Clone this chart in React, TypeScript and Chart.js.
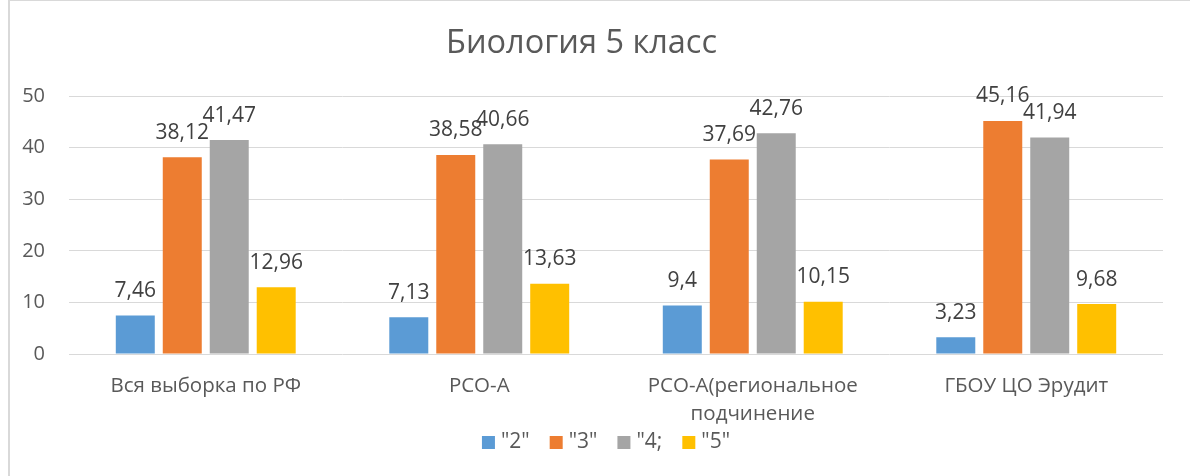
import React, { useEffect, useRef } from "react";
import { Chart, registerables } from "chart.js";

Chart.register(...registerables);

const TITLE = "Биология 5 класс";
const categories: string[][] = [
  ["Вся выборка по РФ"],
  ["РСО-А"],
  ["РСО-А(региональное", "подчинение"],
  ["ГБОУ ЦО Эрудит"],
];
const seriesNames = ['"2"', '"3"', '"4;', '"5"'];
const grade2 = [7.46, 7.13, 9.4, 3.23];
const grade3 = [38.12, 38.58, 37.69, 45.16];
const grade4 = [41.47, 40.66, 42.76, 41.94];
const grade5 = [12.96, 13.63, 10.15, 9.68];
const seriesColors = ["#5B9BD5", "#ED7D31", "#A5A5A5", "#FFC000"];
const yMin = 0;
const yMax = 50;
const yStep = 10;

const FONT = "'Open Sans', sans-serif";

const valueLabels = {
  id: "valueLabels",
  afterDatasetsDraw(chart: any) {
    const ctx = chart.ctx;
    ctx.save();
    ctx.font = `21px ${FONT}`;
    ctx.fillStyle = "#404040";
    ctx.textAlign = "center";
    ctx.textBaseline = "alphabetic";
    chart.data.datasets.forEach((ds: any, di: number) => {
      const meta = chart.getDatasetMeta(di);
      meta.data.forEach((bar: any, i: number) => {
        const v = ds.data[i];
        const txt = String(v).replace(".", ",");
        ctx.fillText(txt, bar.x, bar.y - 18.5);
      });
    });
    ctx.restore();
  },
};

// Legend drawn below the category labels, Excel-style (small square, tight gap).
const bottomLegend = {
  id: "bottomLegend",
  afterDraw(chart: any) {
    const ctx = chart.ctx;
    const box = 13;
    const gapText = 6;
    const gapItem = 20;
    ctx.save();
    ctx.font = `21px ${FONT}`;
    const items = chart.data.datasets.map((ds: any) => ({
      text: ds.label,
      color: ds.backgroundColor,
      w: ctx.measureText(ds.label).width,
    }));
    const total =
      items.reduce((s: number, it: any) => s + box + gapText + it.w, 0) + gapItem * (items.length - 1);
    const ca = chart.chartArea;
    let x = (ca.left + ca.right) / 2 - 10 - total / 2;
    const baseY = ca.bottom + 94;
    items.forEach((it: any) => {
      ctx.fillStyle = it.color;
      ctx.fillRect(x, baseY - 12, box, box);
      x += box + gapText;
      ctx.fillStyle = "#595959";
      ctx.textAlign = "left";
      ctx.textBaseline = "alphabetic";
      ctx.fillText(it.text, x, baseY);
      x += it.w + gapItem;
    });
    ctx.restore();
  },
};

export default function App() {
  const ref = useRef<HTMLCanvasElement | null>(null);
  useEffect(() => {
    if (!ref.current) return;
    const all = [grade2, grade3, grade4, grade5];
    const chart = new Chart(ref.current, {
      type: "bar",
      data: {
        labels: categories,
        datasets: all.map((d, i) => ({
          label: seriesNames[i],
          data: d,
          backgroundColor: seriesColors[i],
          borderWidth: 0,
          categoryPercentage: 0.687,
          barPercentage: 0.83,
        })),
      },
      options: {
        animation: false,
        responsive: false,
        maintainAspectRatio: false,
        layout: { padding: { left: 0, right: 27, top: 0, bottom: 42 } },
        plugins: {
          title: {
            display: true,
            text: TITLE,
            color: "#595959",
            font: { family: FONT, size: 32.5, weight: "normal", lineHeight: 1.2 },
            padding: { top: 24, bottom: 33 },
          },
          legend: { display: false },
          tooltip: { enabled: false },
        },
        scales: {
          x: {
            grid: { display: false, drawTicks: false },
            border: { display: false },
            ticks: {
              color: "#595959",
              font: { family: FONT, size: 20.5, lineHeight: 1.35 },
              padding: 18.5,
              maxRotation: 0,
              autoSkip: false,
            },
            afterFit: (s: any) => {
              s.height = 80;
            },
          },
          y: {
            min: yMin,
            max: yMax,
            grid: { color: "#D9D9D9", lineWidth: 1, drawTicks: false },
            border: { display: false },
            ticks: {
              stepSize: yStep,
              color: "#595959",
              font: { family: FONT, size: 20 },
              padding: 24,
            },
            afterFit: (s: any) => {
              s.width = 69;
            },
          },
        },
      },
      plugins: [valueLabels, bottomLegend],
    });
    return () => chart.destroy();
  }, []);
  return (
    <div style={{ position: "absolute", left: 0, top: 0, width: 1190, height: 476, background: "#fff" }}>
      <div
        style={{
          position: "absolute",
          left: 8,
          top: 0,
          width: 1182,
          height: 476,
          borderLeft: "2px solid #D9D9D9",
          borderTop: "1px solid #D9D9D9",
          boxSizing: "border-box",
        }}
      />
      <canvas ref={ref} width={1190} height={476} style={{ position: "absolute", left: 0, top: 0, display: "block" }} />
    </div>
  );
}
